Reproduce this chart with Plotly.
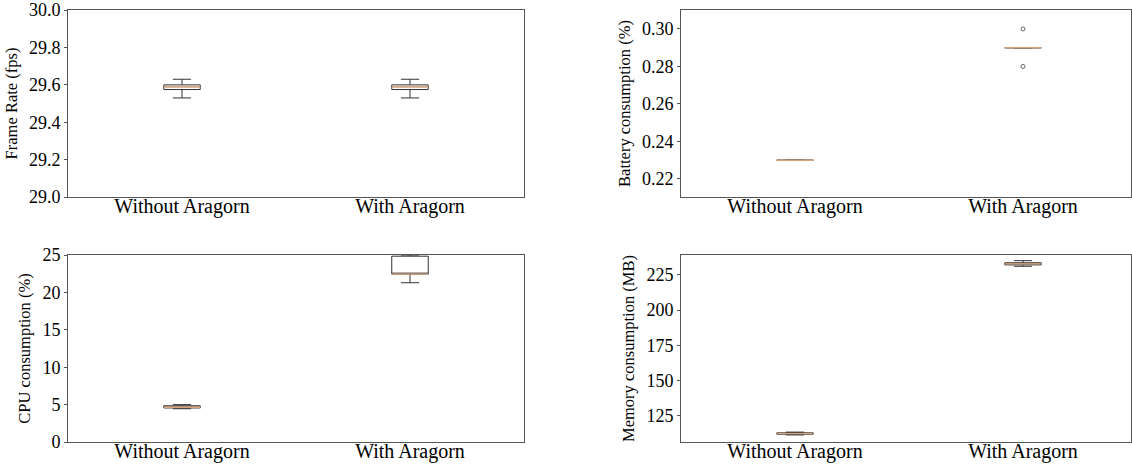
import plotly.graph_objects as go

W, H = 1132, 464
categories = ["Without Aragorn", "With Aragorn"]
positions = [1, 2]

# Frame rate (fps)
fps_lower = [29.53, 29.53]
fps_q1 = [29.575, 29.575]
fps_median = [29.59, 29.59]
fps_q3 = [29.60, 29.60]
fps_upper = [29.63, 29.63]
fps_outliers = [[], []]

# Battery consumption (%)
bat_lower = [0.23, 0.29]
bat_q1 = [0.23, 0.29]
bat_median = [0.23, 0.29]
bat_q3 = [0.23, 0.29]
bat_upper = [0.23, 0.29]
bat_outliers = [[], [0.30, 0.28]]

# CPU consumption (%)
cpu_lower = [4.45, 21.3]
cpu_q1 = [4.55, 22.45]
cpu_median = [4.65, 22.45]
cpu_q3 = [4.85, 24.85]
cpu_upper = [5.0, 25.0]
cpu_outliers = [[], []]

# Memory consumption (MB)
mem_lower = [111.5, 231.0]
mem_q1 = [112.0, 232.0]
mem_median = [112.5, 232.7]
mem_q3 = [113.0, 233.5]
mem_upper = [113.5, 235.0]
mem_outliers = [[], []]

panels = [
    dict(lo=fps_lower, q1=fps_q1, med=fps_median, q3=fps_q3, hi=fps_upper, out=fps_outliers,
         title="Frame Rate (fps)", yrange=[29.0, 30.0005], dtick=0.2, fmt=".1f",
         xrange=[0.5, 2.5], xdom=[68, 524], ydom=[10, 197]),
    dict(lo=bat_lower, q1=bat_q1, med=bat_median, q3=bat_q3, hi=bat_upper, out=bat_outliers,
         title="Battery consumption (%)", yrange=[0.2104, 0.3101], dtick=0.02, fmt=".2f",
         xrange=[0.5, 2.4737], xdom=[681, 1131], ydom=[10, 197]),
    dict(lo=cpu_lower, q1=cpu_q1, med=cpu_median, q3=cpu_q3, hi=cpu_upper, out=cpu_outliers,
         title="CPU consumption (%)", yrange=[0, 25.01], dtick=5, fmt="d",
         xrange=[0.5, 2.5], xdom=[68, 524], ydom=[255, 442]),
    dict(lo=mem_lower, q1=mem_q1, med=mem_median, q3=mem_q3, hi=mem_upper, out=mem_outliers,
         title="Memory consumption (MB)", yrange=[106.5, 239.0], dtick=25, fmt="d",
         xrange=[0.5, 2.4737], xdom=[681, 1131], ydom=[255, 442]),
]

BOXW = 0.16
FONT = "Liberation Serif"
fig = go.Figure()
layout = dict(width=W, height=H, margin=dict(l=0, r=0, t=0, b=0),
              paper_bgcolor="white", plot_bgcolor="white", showlegend=False,
              font=dict(family=FONT, size=16, color="black"))

for i, p in enumerate(panels):
    idx = "" if i == 0 else str(i + 1)
    xa, ya = "x" + idx, "y" + idx
    fig.add_trace(go.Box(
        x=positions, q1=p["q1"], median=p["med"], q3=p["q3"],
        lowerfence=p["lo"], upperfence=p["hi"],
        width=BOXW, whiskerwidth=0.5, boxpoints=False,
        fillcolor="rgba(0,0,0,0)", line=dict(color="#333333", width=1),
        xaxis=xa, yaxis=ya, hoverinfo="skip"))
    for xpos, m in zip(positions, p["med"]):
        fig.add_trace(go.Scatter(x=[xpos - BOXW / 2, xpos + BOXW / 2], y=[m, m], mode="lines",
                                 line=dict(color="#d9a47a", width=1.3), xaxis=xa, yaxis=ya,
                                 hoverinfo="skip"))
    for xpos, outs in zip(positions, p["out"]):
        if outs:
            fig.add_trace(go.Scatter(x=[xpos] * len(outs), y=outs, mode="markers",
                                     marker=dict(symbol="circle-open", size=4, color="#666666",
                                                 line=dict(width=1)),
                                     xaxis=xa, yaxis=ya, hoverinfo="skip"))
    xd = [p["xdom"][0] / W, p["xdom"][1] / W]
    yd = [1 - p["ydom"][1] / H, 1 - p["ydom"][0] / H]
    layout["xaxis" + idx] = dict(domain=xd, range=p["xrange"], tickvals=positions, ticktext=categories,
                                 showline=True, mirror=True, linecolor="#555555", linewidth=1,
                                 ticks="", showgrid=False, zeroline=False, anchor=ya,
                                 ticklabelstandoff=-9,
                                 tickfont=dict(family=FONT, size=20))
    layout["yaxis" + idx] = dict(domain=yd, range=p["yrange"], dtick=p["dtick"], tickformat=p["fmt"],
                                 showline=True, mirror=True, linecolor="#555555", linewidth=1,
                                 ticks="outside", ticklen=3, tickcolor="#555555",
                                 showgrid=False, zeroline=False, anchor=xa, automargin=False,
                                 tickfont=dict(family=FONT, size=18),
                                 title=dict(text=p["title"], font=dict(family=FONT, size=16.5), standoff=7))

fig.update_layout(**layout)
fig.write_html("out.html", config={"displayModeBar": False, "staticPlot": True},
               post_script="document.body.style.margin='0';document.body.style.overflow='hidden';")
